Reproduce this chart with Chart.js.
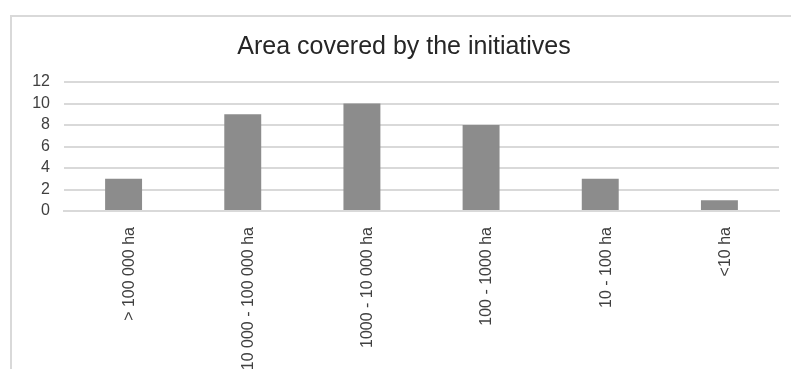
<!DOCTYPE html>
<html>
<head>
<meta charset="utf-8">
<script src="https://cdn.jsdelivr.net/npm/chart.js@4.4.0/dist/chart.umd.min.js"></script>
<style>
  html, body { margin:0; padding:0; background:#fff; overflow:hidden; }
  #wrap { position:relative; width:791px; height:369px; overflow:hidden; }
  #frame { position:absolute; left:10px; top:15px; width:800px; height:400px; border-left:2px solid #d9d9d9; border-top:2px solid #d9d9d9; }
  #box { position:absolute; left:0; top:0; width:791px; height:390px; }
</style>
</head>
<body>
<div id="wrap">
  <div id="frame"></div>
  <div id="box"><canvas id="areaChart"></canvas></div>
</div>
<script>
// chart data
const TITLE = 'Area covered by the initiatives';
const sizeClasses = ['> 100 000 ha', '10 000 - 100 000 ha', '1000 - 10 000 ha', '100 - 1000 ha', '10 - 100 ha', '<10 ha'];
const initiativeCounts = [3, 9, 10, 8, 3, 1];
const yTicks = [0, 2, 4, 6, 8, 10, 12];

const FONT = 'Liberation Sans, Arial, sans-serif';

document.addEventListener('DOMContentLoaded', ()=>{
  const ctx = document.getElementById('areaChart').getContext('2d');
  new Chart(ctx, {
    type: 'bar',
    data: {
      labels: sizeClasses,
      datasets: [{ data: initiativeCounts, backgroundColor:'#8c8c8c', borderWidth:0, barPercentage:0.62, categoryPercentage:0.5 }]
    },
    options: {
      responsive:true, maintainAspectRatio:false, animation:false,
      // left padding keeps the title centred a bit right of the canvas middle
      layout: { padding: { left:29, right:12, top:0, bottom:0 } },
      plugins: {
        legend: { display:false },
        tooltip: { enabled:false },
        title: { display:true, text:TITLE, color:'#262626', font:{ family:FONT, size:25, weight:'normal' }, padding:{ top:32, bottom:20 } }
      },
      scales: {
        x: {
          grid: { display:false, drawTicks:false },
          border: { display:true, color:'#d9d9d9', width:2 },
          ticks: { color:'#404040', font:{ family:FONT, size:16 }, minRotation:90, maxRotation:90, autoSkip:false, padding:16, labelOffset:6 },
          afterFit: s => { s.height = 390 - 211; }
        },
        y: {
          min: yTicks[0], max: yTicks[yTicks.length-1],
          afterBuildTicks: s => { s.ticks = yTicks.map(v => ({ value:v })); },
          grid: { color:'#d9d9d9', lineWidth:2, drawTicks:false },
          border: { display:false },
          ticks: { color:'#404040', font:{ family:FONT, size:16 }, padding:14, autoSkip:false },
          afterFit: s => { s.width = 35; }
        }
      }
    }
  });
});
</script>
</body>
</html>
